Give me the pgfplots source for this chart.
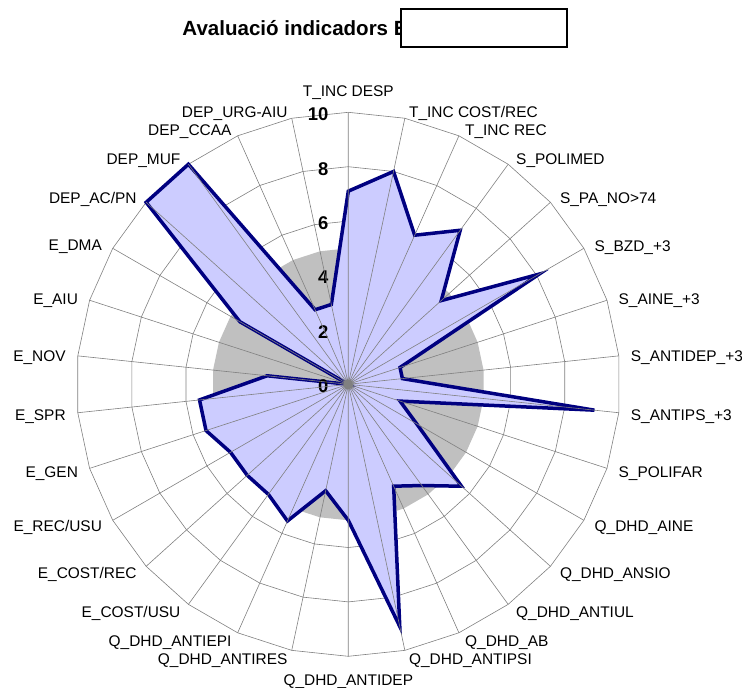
\documentclass[border=0pt]{standalone}
\usepackage{fontspec}
\setmainfont{Liberation Sans}
\usepackage{pgfplots}
\usepackage{pgfplotstable}
\usepgfplotslibrary{polar}
\pgfplotsset{compat=1.18}
\definecolor{navy}{RGB}{0,0,128}
\definecolor{lav}{RGB}{204,204,255}
\definecolor{silverg}{RGB}{192,192,192}
\definecolor{gridg}{RGB}{128,128,128}

% a = angle of the category spoke, v = indicator value, g = reference band (5), r* = grid rings
\pgfplotstableread{
a   v    g  r2 r4 r6 r8 r10
90  7.1  5  2  4  6  8  10
78  8.0  5  2  4  6  8  10
66  6.0  5  2  4  6  8  10
54  7.0  5  2  4  6  8  10
42  4.6  5  2  4  6  8  10
30  8.1  5  2  4  6  8  10
18  2.0  5  2  4  6  8  10
6   2.0  5  2  4  6  8  10
354 9.1  5  2  4  6  8  10
342 2.0  5  2  4  6  8  10
330 2.9  5  2  4  6  8  10
318 5.6  5  2  4  6  8  10
306 4.6  5  2  4  6  8  10
294 4.1  5  2  4  6  8  10
282 9.1  5  2  4  6  8  10
270 5.0  5  2  4  6  8  10
258 4.0  5  2  4  6  8  10
246 5.5  5  2  4  6  8  10
234 5.0  5  2  4  6  8  10
222 5.0  5  2  4  6  8  10
210 5.0  5  2  4  6  8  10
198 5.5  5  2  4  6  8  10
186 5.5  5  2  4  6  8  10
174 3.0  5  2  4  6  8  10
162 0.0  5  2  4  6  8  10
150 4.6  5  2  4  6  8  10
138 10.0 5  2  4  6  8  10
126 10.0 5  2  4  6  8  10
114 3.0  5  2  4  6  8  10
102 3.0  5  2  4  6  8  10
}\radar

\tikzset{
  catfont/.style={font=\fontsize{15.5}{18}\selectfont, inner sep=0pt},
  labW/.style={catfont, anchor=west, xshift={2+10*abs(cos(#1))}, yshift={8*sin(#1)-2.9}},
  labE/.style={catfont, anchor=east, xshift={-2-10*abs(cos(#1))}, yshift={8*sin(#1)-2.9}},
  rlab/.style={anchor=east, inner sep=0pt, xshift=-19.8bp, yshift=-2bp, font=\bfseries\fontsize{18.5}{20}\selectfont},
}

\begin{document}
\begin{tikzpicture}
\path[use as bounding box] (-348.3bp,-303.7bp) rectangle (393.7bp,384.3bp);

\node[anchor=base west, inner sep=0pt, font=\bfseries\fontsize{20.6}{24}\selectfont] at (-166bp,349bp) {Avaluació indicadors EAP 2023};
\draw[line width=2bp, fill=white] (52.5bp,375.7bp) rectangle (218.7bp,337.3bp);

\begin{polaraxis}[
  at={(0,0)}, anchor=center,
  width=544bp, height=544bp, scale only axis,
  xmin=0, xmax=360, ymin=0, ymax=10,
  xtick={6,18,...,354}, xticklabels=\empty,
  ytick=\empty, minor tick num=0,
  xmajorgrids=true, ymajorgrids=false,
  grid style={draw=gridg, line width=0.6bp},
  major tick length=0pt,
  axis line style={draw=none},
  axis on top,
  clip=false,
]
\addplot[draw=gridg, line width=0.6bp, forget plot] table[x=a,y=r2]{\radar} -- cycle;
\addplot[draw=gridg, line width=0.6bp, forget plot] table[x=a,y=r4]{\radar} -- cycle;
\addplot[draw=gridg, line width=0.6bp, forget plot] table[x=a,y=r6]{\radar} -- cycle;
\addplot[draw=gridg, line width=0.6bp, forget plot] table[x=a,y=r8]{\radar} -- cycle;
\addplot[draw=gridg, line width=0.6bp, forget plot] table[x=a,y=r10]{\radar} -- cycle;
\addplot[draw=none, fill=silverg] table[x=a,y=g]{\radar} -- cycle;
\addplot[draw=navy, line width=3.5bp, fill=lav, line join=miter] table[x=a,y=v]{\radar} -- cycle;

\node[catfont, anchor=south, yshift=12.8bp] at (axis cs:90,10) {T\_INC DESP};
\node[labW=78] at (axis cs:78,10) {T\_INC COST/REC};
\node[labW=66] at (axis cs:66,10) {T\_INC REC};
\node[labW=54] at (axis cs:54,10) {S\_POLIMED};
\node[labW=42] at (axis cs:42,10) {S\_PA\_NO>74};
\node[labW=30] at (axis cs:30,10) {S\_BZD\_+3};
\node[labW=18] at (axis cs:18,10) {S\_AINE\_+3};
\node[labW=6] at (axis cs:6,10) {S\_ANTIDEP\_+3};
\node[labW=-6] at (axis cs:354,10) {S\_ANTIPS\_+3};
\node[labW=-18] at (axis cs:342,10) {S\_POLIFAR};
\node[labW=-30] at (axis cs:330,10) {Q\_DHD\_AINE};
\node[labW=-42] at (axis cs:318,10) {Q\_DHD\_ANSIO};
\node[labW=-54] at (axis cs:306,10) {Q\_DHD\_ANTIUL};
\node[labW=-66] at (axis cs:294,10) {Q\_DHD\_AB};
\node[labW=-78] at (axis cs:282,10) {Q\_DHD\_ANTIPSI};
\node[catfont, anchor=north, yshift=-18bp] at (axis cs:270,10) {Q\_DHD\_ANTIDEP};
\node[labE=258] at (axis cs:258,10) {Q\_DHD\_ANTIRES};
\node[labE=246] at (axis cs:246,10) {Q\_DHD\_ANTIEPI};
\node[labE=234] at (axis cs:234,10) {E\_COST/USU};
\node[labE=222] at (axis cs:222,10) {E\_COST/REC};
\node[labE=210] at (axis cs:210,10) {E\_REC/USU};
\node[labE=198] at (axis cs:198,10) {E\_GEN};
\node[labE=186] at (axis cs:186,10) {E\_SPR};
\node[labE=174] at (axis cs:174,10) {E\_NOV};
\node[labE=162] at (axis cs:162,10) {E\_AIU};
\node[labE=150] at (axis cs:150,10) {E\_DMA};
\node[labE=138] at (axis cs:138,10) {DEP\_AC/PN};
\node[labE=126] at (axis cs:126,10) {DEP\_MUF};
\node[labE=114] at (axis cs:114,10) {DEP\_CCAA};
\node[labE=102] at (axis cs:102,10) {DEP\_URG-AIU};

\node[rlab] at (axis cs:90,0) {0};
\node[rlab] at (axis cs:90,2) {2};
\node[rlab] at (axis cs:90,4) {4};
\node[rlab] at (axis cs:90,6) {6};
\node[rlab] at (axis cs:90,8) {8};
\node[rlab] at (axis cs:90,10) {10};
\end{polaraxis}
\end{tikzpicture}
\end{document}
